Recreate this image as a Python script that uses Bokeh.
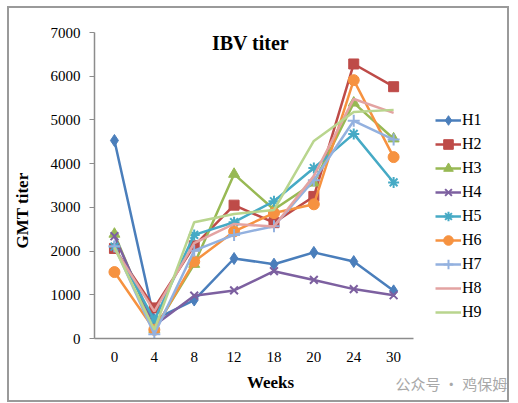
import math
from bokeh.plotting import figure
from bokeh.models import Range1d, Label, Legend, LegendItem, FixedTicker
from bokeh.embed import file_html
from bokeh.resources import INLINE

weeks = ["0", "4", "8", "12", "18", "20", "24", "30"]
H1 = [4530, 430, 880, 1830, 1700, 1970, 1760, 1090]
H2 = [2060, 700, 2120, 3050, 2650, 3250, 6280, 5760]
H3 = [2390, 210, 1700, 3760, 2950, 3560, 5390, 4570]
H4 = [2340, 300, 980, 1100, 1540, 1340, 1130, 990]
H5 = [2100, 420, 2370, 2660, 3140, 3900, 4680, 3570]
H6 = [1520, 200, 1760, 2450, 2870, 3070, 5910, 4150]
H7 = [2110, 100, 2010, 2370, 2570, 3620, 4980, 4550]
H8 = [2060, 620, 2180, 2620, 2560, 3720, 5480, 5160]
H9 = [2080, 200, 2660, 2850, 2940, 4520, 5180, 5230]
series_names = ["H1", "H2", "H3", "H4", "H5", "H6", "H7", "H8", "H9"]
series_values = [H1, H2, H3, H4, H5, H6, H7, H8, H9]
y_ticks = [0, 1000, 2000, 3000, 4000, 5000, 6000, 7000]

colors = ["#4A7EBB", "#BE4B48", "#98B954", "#7D60A0", "#46AAC5", "#F69240",
          "#93B1DF", "#E3A3A2", "#B9D58E"]
markers = ["diamond", "square", "triangle", "x", "asterisk", "circle", "cross", None, None]
msizes = [12, 10, 11, 11, 11, 11, 12, 0, 0]

SERIF = "Liberation Serif"

# category slots: weeks are placed at the middle of equal slots; the frame is
# extended to the right so the legend sits inside it
n = len(weeks)
xpos = [i + 0.5 for i in range(n)]
x_end = n * 413.0 / 316.0

p = figure(width=502, height=396, x_range=Range1d(0, x_end),
           y_range=Range1d(0, 7000), output_backend="svg", toolbar_location=None,
           min_border_left=85, min_border_right=0, min_border_top=24, min_border_bottom=59)
p.styles = {"border": "2px solid #9a9a9a", "box-sizing": "border-box",
            "margin-left": "7px", "margin-top": "6px"}
p.xgrid.visible = False
p.ygrid.visible = False
p.outline_line_color = None
p.background_fill_color = "white"
p.border_fill_color = "white"

p.xaxis.ticker = FixedTicker(ticks=xpos)
p.xaxis.major_label_overrides = {x: w for x, w in zip(xpos, weeks)}
p.xaxis.bounds = (0, n)
p.yaxis.ticker = FixedTicker(ticks=y_ticks)
for ax in (p.xaxis[0], p.yaxis[0]):
    ax.axis_line_color = "#8c8c8c"
    ax.axis_line_width = 1.5
    ax.major_tick_line_color = "#8c8c8c"
    ax.minor_tick_line_color = None
    ax.major_label_text_font = SERIF
    ax.major_label_text_font_size = "15px"
    ax.major_label_text_color = "black"
p.xaxis.major_tick_out = 0
p.xaxis.major_tick_in = 0
p.xaxis.major_label_standoff = 13
p.yaxis.major_tick_out = 5
p.yaxis.major_tick_in = 0
p.yaxis.major_label_standoff = 9

items = []
for name, vals, c, m, s in zip(series_names, series_values, colors, markers, msizes):
    r = [p.line(xpos, vals, line_color=c, line_width=2.5)]
    if m is not None:
        r.append(p.scatter(xpos, vals, marker=m, size=s, fill_color=c, line_color=c,
                           line_width=2 if m in ("x", "asterisk", "cross") else 1))
    items.append(LegendItem(label=name, renderers=r))

legend = Legend(items=items, location=(341, 14), padding=0, margin=0,
                border_line_color=None, background_fill_alpha=0,
                glyph_width=26, glyph_height=24, label_height=24, spacing=0,
                label_standoff=1, label_text_font=SERIF, label_text_font_size="16px",
                label_text_color="black")
p.add_layout(legend, "center")

p.add_layout(Label(x=156, y=296, x_units="screen", y_units="screen", text="IBV titer",
                   text_font=SERIF, text_font_size="20px", text_font_style="bold",
                   text_align="center", text_baseline="middle", text_color="black"))

p.add_layout(Label(x=176, y=1, x_units="screen", y_units="screen", text="Weeks",
                   text_font=SERIF, text_font_size="17px", text_font_style="bold",
                   text_align="center", text_baseline="middle", text_color="black"),
             "below")
p.add_layout(Label(x=301, y=21, x_units="screen", y_units="screen", text="公众号 · 鸡保姆",
                   text_font="Noto Sans CJK SC", text_font_size="15px",
                   text_align="left", text_baseline="middle", text_color="#a8a8a8"),
             "below")
p.add_layout(Label(x=-6, y=128, x_units="screen", y_units="screen", text="GMT titer",
                   angle=math.pi / 2, text_font=SERIF, text_font_size="17px",
                   text_font_style="bold", text_align="center", text_baseline="middle",
                   text_color="black"),
             "left")

open("out.html", "w").write(file_html(p, INLINE))
